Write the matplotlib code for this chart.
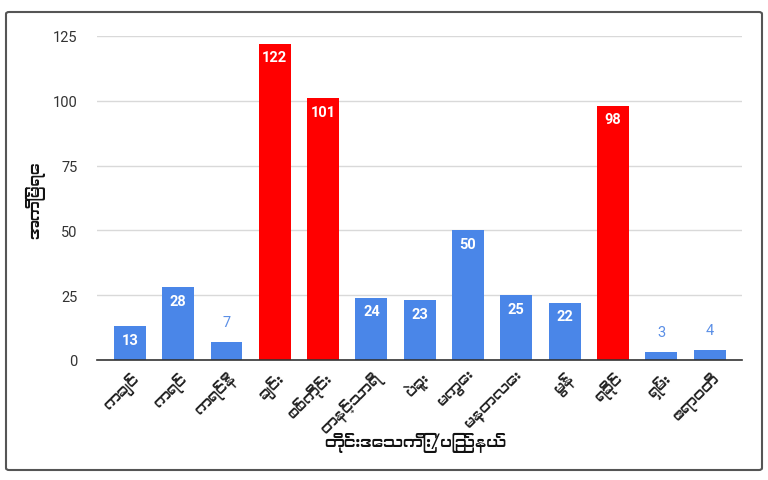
import matplotlib
matplotlib.use("Agg")
import matplotlib.pyplot as plt
from matplotlib import font_manager
from matplotlib.patches import FancyBboxPatch

categories = ["ကချင်", "ကရင်", "ကရင်နီ", "ချင်း", "စစ်ကိုင်း", "တနင်္သာရီ", "ပဲခူး",
              "မကွေး", "မန္တလေး", "မွန်", "ရခိုင်", "ရှမ်း", "ဧရာဝတီ"]
values = [13, 28, 7, 122, 101, 24, 23, 50, 25, 22, 98, 3, 4]
highlight = [False, False, False, True, True, False, False, False, False, False, True, False, False]
yticks = [0, 25, 50, 75, 100, 125]
ylabel = "အကြိမ်ရေ"
xlabel = "တိုင်းဒေသကြီး/ပြည်နယ်"

# find a Myanmar-capable font if any
mm_font = None
for f in font_manager.fontManager.ttflist:
    n = f.name.lower()
    if "myanmar" in n or "padauk" in n or "pyidaungsu" in n:
        mm_font = f.name
        break
families = ([mm_font] if mm_font else []) + ["Roboto", "DejaVu Sans"]
plt.rcParams['font.family'] = families

BLUE = "#4a86e8"
RED = "#ff0000"

fig = plt.figure(figsize=(7.68, 4.81), dpi=100)
ax = fig.add_axes([97/768, 1-361/481, (742-97)/768, (361-37)/481])

colors = [RED if h else BLUE for h in highlight]
x = list(range(len(categories)))
ax.bar(x, values, width=0.66, color=colors, zorder=3)

for xi, v in zip(x, values):
    if v >= 10:
        ax.text(xi, v - 2.5, str(v), ha="center", va="top", color="white",
                fontsize=10.5, fontweight="bold", family=["Roboto", "DejaVu Sans"], zorder=4)
    else:
        ax.text(xi, v + 5, str(v), ha="center", va="bottom", color="#5b8fe6",
                fontsize=10.5, family=["Roboto", "DejaVu Sans"], zorder=4)

ax.set_xlim(-0.68, 12.67)
ax.set_ylim(0, 125)
ax.set_yticks(yticks)
ax.set_yticklabels([str(t) for t in yticks], fontsize=10.5, color="#333333",
                   family=["Roboto", "DejaVu Sans"])
ax.yaxis.grid(True, color="#d9d9d9", linewidth=1, zorder=0)
ax.set_xticks(x)
ax.set_xticklabels(categories, rotation=45, ha="right", rotation_mode="anchor",
                   fontsize=11, color="#222222")
ax.tick_params(axis="x", length=0, pad=6)
ax.tick_params(axis="y", length=0, pad=14)
for s in ["top", "right", "left"]:
    ax.spines[s].set_visible(False)
ax.spines["bottom"].set_color("#333333")
ax.spines["bottom"].set_linewidth(1.2)
ax.spines["bottom"].set_zorder(5)

fig.text(35/768, 1-200/481, ylabel, rotation=90, ha="center", va="center",
         fontsize=11.5, fontweight="bold", color="#111111")
fig.text(415/768, 1-443/481, xlabel, ha="center", va="center",
         fontsize=11.5, fontweight="bold", color="#111111")

border = FancyBboxPatch((6/768, 1-471/481), 756/768, 458/481,
                        boxstyle="round,pad=0,rounding_size=0.004",
                        transform=fig.transFigure, fill=False,
                        edgecolor="#555555", linewidth=1.5)
fig.patches.append(border)

fig.savefig("out.png", dpi=100)
